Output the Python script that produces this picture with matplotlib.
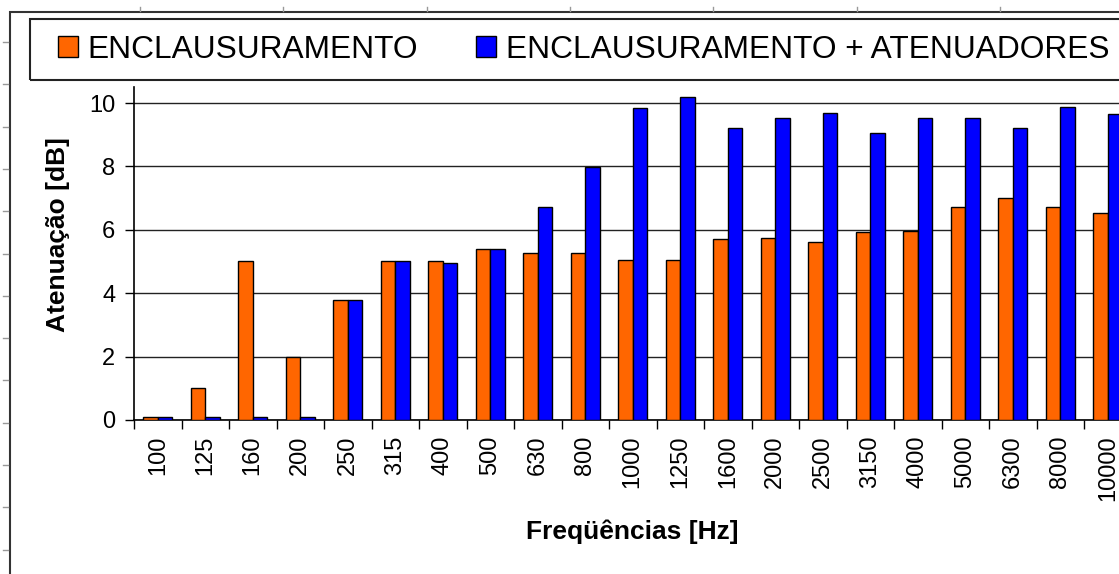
import numpy as np
import matplotlib
matplotlib.use("Agg")
import matplotlib.pyplot as plt
import matplotlib.patches as mpatches
from matplotlib.lines import Line2D

plt.rcParams['font.family'] = ['Liberation Sans', 'DejaVu Sans']

freqs = ["100", "125", "160", "200", "250", "315", "400", "500", "630", "800",
         "1000", "1250", "1600", "2000", "2500", "3150", "4000", "5000",
         "6300", "8000", "10000"]
enclausuramento = [0.09, 1.0, 5.03, 1.99, 3.77, 5.03, 5.03, 5.4, 5.26, 5.28,
                   5.05, 5.05, 5.7, 5.75, 5.6, 5.92, 5.96, 6.72, 7.0, 6.72, 6.52]
atenuadores = [0.09, 0.09, 0.09, 0.09, 3.77, 5.03, 4.94, 5.4, 6.73, 7.97,
               9.84, 10.19, 9.2, 9.52, 9.7, 9.04, 9.52, 9.52, 9.2, 9.87, 9.66]
labels = ["ENCLAUSURAMENTO", "ENCLAUSURAMENTO + ATENUADORES"]
colors = ["#FF6600", "#0000FF"]

W, H = 1119, 574
fig = plt.figure(figsize=(W / 100, H / 100), dpi=100)

# plot area (extends past the right edge, like the cropped original)
x0, y0 = 134, 420
cat_w = 47.5
unit = 31.7
ymax = 10.5
ax = fig.add_axes([x0 / W, (H - y0) / H, len(freqs) * cat_w / W, ymax * unit / H])

x = np.arange(len(freqs))
w = 0.305
ax.bar(x - w / 2, enclausuramento, w, color=colors[0], edgecolor="black", linewidth=1, zorder=3)
ax.bar(x + w / 2, atenuadores, w, color=colors[1], edgecolor="black", linewidth=1, zorder=3)

ax.set_xlim(-0.5, len(freqs) - 0.5)
ax.set_ylim(0, ymax)
ax.set_yticks([0, 2, 4, 6, 8, 10])
ax.yaxis.grid(True, color="#222222", linewidth=1.0, zorder=0)
ax.set_axisbelow(True)

ax.set_xticks(x)
ax.set_xticklabels(freqs, rotation=90, fontsize=17)
ax.set_xticks(np.arange(len(freqs) + 1) - 0.5, minor=True)
ax.tick_params(axis="x", which="major", length=0, pad=11)
ax.tick_params(axis="x", which="minor", length=6.5, width=1, color="black")
ax.tick_params(axis="y", length=6.5, width=1, color="black", labelsize=17, pad=7)

for s in ["top", "right"]:
    ax.spines[s].set_visible(False)
for s in ["left", "bottom"]:
    ax.spines[s].set_color("black")
    ax.spines[s].set_linewidth(1.2)

ax.set_ylabel("Atenuação [dB]", fontsize=19, fontweight="bold")
ax.yaxis.set_label_coords(-0.0642, 0.556)
ax.set_xlabel("Freqüências [Hz]", fontsize=19, fontweight="bold")
ax.xaxis.set_label_coords(0.5, -0.30)

# legend with cropped frame
handles = [mpatches.Patch(facecolor=c, edgecolor="black", linewidth=1) for c in colors]
fig.legend(handles, labels, ncol=2, frameon=False, fontsize=22.8,
           handlelength=0.63, handleheight=0.63, handletextpad=0.3,
           columnspacing=1.84, borderpad=0, borderaxespad=0,
           loc="center left", bbox_to_anchor=(58 / W, 1 - 49.5 / H))
fig.add_artist(mpatches.Rectangle((30 / W, 1 - 80 / H), 1.0, 61 / H, transform=fig.transFigure,
                                  fill=False, edgecolor="#222222", linewidth=1.5))

# outer chart frame
fig.add_artist(mpatches.Rectangle((10 / W, -0.1), 1.0, 1.1 - 12 / H, transform=fig.transFigure,
                                  fill=False, edgecolor="#333333", linewidth=1.5))

# ruler marks along top and left edges
for px in np.arange(140, W, 143.3):
    fig.add_artist(Line2D([px / W, px / W], [1 - 7 / H, 1 - 11 / H], transform=fig.transFigure,
                          color="#999999", linewidth=1))
for py in np.arange(42, H, 42.3):
    fig.add_artist(Line2D([3 / W, 8 / W], [1 - py / H, 1 - py / H], transform=fig.transFigure,
                          color="#999999", linewidth=1))

fig.savefig("out.png", dpi=100, facecolor="white")
